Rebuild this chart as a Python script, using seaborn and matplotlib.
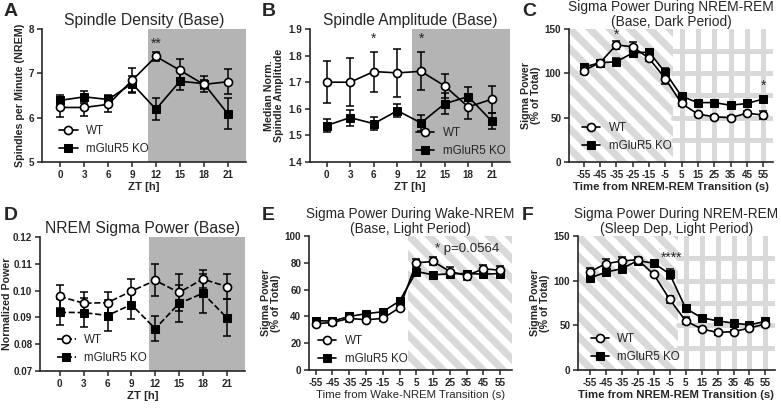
import numpy as np
import pandas as pd
import matplotlib
matplotlib.use('Agg')
import matplotlib.pyplot as plt
import seaborn as sns

sns.set_style('ticks')
plt.rcParams['font.family'] = ['Liberation Sans', 'DejaVu Sans']
plt.rcParams['axes.unicode_minus'] = False

# x values
zt = [0, 3, 6, 9, 12, 15, 18, 21]
trans = [-55, -45, -35, -25, -15, -5, 5, 15, 25, 35, 45, 55]

# A: spindle density
dens_wt = [6.23, 6.23, 6.30, 6.84, 7.38, 7.07, 6.75, 6.81]
dens_wt_err = [0.21, 0.20, 0.18, 0.28, 0.10, 0.25, 0.10, 0.28]
dens_ko = [6.39, 6.47, 6.41, 6.77, 6.19, 6.82, 6.77, 6.09]
dens_ko_err = [0.13, 0.13, 0.10, 0.18, 0.25, 0.20, 0.18, 0.35]

# B: spindle amplitude
amp_wt = [1.70, 1.70, 1.74, 1.735, 1.741, 1.686, 1.607, 1.636]
amp_wt_err = [0.08, 0.09, 0.075, 0.09, 0.072, 0.046, 0.045, 0.05]
amp_ko = [1.537, 1.567, 1.544, 1.593, 1.547, 1.619, 1.646, 1.553]
amp_ko_err = [0.025, 0.03, 0.025, 0.025, 0.03, 0.04, 0.035, 0.03]

# C: sigma NREM-REM base dark
c_wt = [103, 112, 132, 130, 117, 94, 66, 54, 51, 50, 55, 53]
c_wt_err = [4, 3, 5, 5, 3, 6, 3, 2, 2, 2, 2, 4]
c_ko = [107, 112, 113, 123, 124, 101, 74, 67, 67, 64, 66, 71]
c_ko_err = [3, 3, 4, 3, 3, 5, 3, 2, 2, 3, 2, 3]

# D: NREM sigma power
d_wt = [0.0978, 0.0953, 0.0955, 0.0998, 0.1038, 0.0993, 0.1043, 0.1015]
d_wt_err = [0.0042, 0.0040, 0.0040, 0.0045, 0.0060, 0.0070, 0.0035, 0.0048]
d_ko = [0.0919, 0.0918, 0.0907, 0.0948, 0.0858, 0.0952, 0.0990, 0.0899]
d_ko_err = [0.0048, 0.0055, 0.0058, 0.0055, 0.0047, 0.0068, 0.0072, 0.0070]

# E: sigma wake-NREM base light
e_wt = [34.5, 35.5, 38.5, 37.5, 38.5, 46.5, 80, 81, 73.5, 70.5, 75.5, 74.5]
e_wt_err = [2, 2, 3, 2, 2, 2, 3, 3, 3, 3, 3, 3]
e_ko = [36.8, 36.5, 40, 42, 43.5, 51.5, 73.5, 71, 71.8, 72, 71.5, 72]
e_ko_err = [1.5, 1.5, 2, 1.5, 1.5, 2, 2, 2, 2, 2, 2, 2]

# F: sigma NREM-REM sleep dep light
f_wt = [110, 119, 122, 123.5, 107, 79, 55, 46, 42, 43, 47, 51.5]
f_wt_err = [4, 5, 4, 3, 2, 4, 4, 2, 3, 2, 2, 2]
f_ko = [103, 109.5, 113.5, 122.5, 119.5, 107.5, 69, 58.5, 55, 52.5, 50.5, 54.5]
f_ko_err = [3, 3, 3, 3, 3, 6, 2, 2, 2, 2, 2, 2]

W, H = 781, 408
fig = plt.figure(figsize=(W / 100, H / 100), dpi=100)


def box(l, t, r, b):
    return fig.add_axes([l / W, 1 - b / H, (r - l) / W, (b - t) / H])


def bold_ticks(ax):
    for lbl in ax.get_xticklabels() + ax.get_yticklabels():
        lbl.set_fontweight('bold')


def draw(ax, x, wt, wt_e, ko, ko_e, ls='-'):
    ax.errorbar(x, ko, yerr=ko_e, fmt='none', ecolor='black', elinewidth=1.1,
                capsize=2.6, capthick=1.1, zorder=3)
    ax.errorbar(x, wt, yerr=wt_e, fmt='none', ecolor='black', elinewidth=1.1,
                capsize=2.6, capthick=1.1, zorder=3)
    df = pd.DataFrame({'x': x, 'wt': wt, 'ko': ko})
    sns.lineplot(data=df, x='x', y='ko', ax=ax, color='black', marker='s',
                 markersize=5.5, markeredgecolor='black', linestyle=ls,
                 linewidth=1.2, label='mGluR5 KO', zorder=4)
    sns.lineplot(data=df, x='x', y='wt', ax=ax, color='black', marker='o',
                 markersize=5.8, markerfacecolor='white', markeredgecolor='black',
                 markeredgewidth=1.2, linestyle=ls, linewidth=1.2, label='WT', zorder=5)


def style(ax, xlabel, ylabel, title, tsize=11, xl_bold=True, ypad=3):
    sns.despine(ax=ax)
    for s in ['left', 'bottom']:
        ax.spines[s].set_linewidth(1.2)
    ax.tick_params(labelsize=7.1, length=3.5, width=1.1, pad=2)
    ax.set_xlabel(xlabel, fontsize=8.2, fontweight='bold' if xl_bold else 'normal', labelpad=2)
    ax.set_ylabel(ylabel, fontsize=7.7, fontweight='bold', labelpad=ypad, linespacing=1.0)
    ax.set_title(title, fontsize=tsize, linespacing=1.05, pad=3 if tsize > 10 else 0.5)
    bold_ticks(ax)


def legend(ax, loc, anchor):
    h, l = ax.get_legend_handles_labels()
    order = [l.index('WT'), l.index('mGluR5 KO')]
    ax.legend([h[i] for i in order], [l[i] for i in order], frameon=False,
              fontsize=8.4, loc=loc, bbox_to_anchor=anchor, handlelength=1.6,
              handletextpad=0.7, labelspacing=0.5, borderaxespad=0)


def stripes(ax, x0, x1, y1):
    # diagonal light-gray bands, 45 degrees on screen, clipped to [x0, x1]
    rect = plt.Rectangle((x0, 0), x1 - x0, y1, facecolor='none', edgecolor='none',
                         transform=ax.transData)
    ax.add_patch(rect)
    bb = ax.get_position()
    w, h = bb.width * W, bb.height * H
    for k in np.arange(-h - 6, w + 20, 20):
        ln, = ax.plot([k / w, (k + h) / w], [1, 0], transform=ax.transAxes,
                      color='#d9d9d9', lw=5.2, zorder=0, solid_capstyle='projecting')
        ln.set_clip_path(rect)


def grid_right(ax, xs, ys, x1):
    for gx in xs:
        ax.plot([gx, gx], [0, ys[-1] + 25], color='#d9d9d9', lw=3.6, zorder=0.5)
    for gy in ys:
        ax.plot([0, x1], [gy, gy], color='#d9d9d9', lw=3.6, zorder=0.5)


# A
axA = box(42, 29, 246, 162)
axA.axvspan(11, 23.3, color='#b4b4b4', lw=0, zorder=0)
draw(axA, zt, dens_wt, dens_wt_err, dens_ko, dens_ko_err)
axA.set_xlim(-2.3, 23.3)
axA.set_ylim(5, 8)
axA.set_xticks(zt)
axA.set_yticks([5, 6, 7, 8])
style(axA, 'ZT [h]', 'Spindles per Minute (NREM)', 'Spindle Density (Base)', 11.3)
axA.text(12, 7.57, '**', ha='center', fontsize=10)
legend(axA, 'lower left', (0.06, 0.02))

# B
axB = box(310, 29, 510, 162)
axB.axvspan(10.8, 23.3, color='#b4b4b4', lw=0, zorder=0)
draw(axB, zt, amp_wt, amp_wt_err, amp_ko, amp_ko_err)
axB.set_xlim(-2.1, 23.3)
axB.set_ylim(1.4, 1.9)
axB.set_xticks(zt)
axB.set_yticks([1.4, 1.5, 1.6, 1.7, 1.8, 1.9])
axB.yaxis.set_major_formatter(matplotlib.ticker.FormatStrFormatter('%.1f'))
style(axB, 'ZT [h]', 'Median Norm.\nSpindle Amplitude', 'Spindle Amplitude (Base)', 11.2)
for xs in [6, 12]:
    axB.text(xs, 1.85, '*', ha='center', fontsize=10)
legend(axB, 'lower right', (1.0, 0.0))

# C
axC = box(569, 29, 773, 162)
axC.set_xlim(-64, 61)
axC.set_ylim(0, 150)
stripes(axC, -64, 0, 150)
grid_right(axC, trans[6:], [25, 50, 75, 100, 125], 61)
draw(axC, trans, c_wt, c_wt_err, c_ko, c_ko_err)
axC.set_xlim(-64, 61)
axC.set_ylim(0, 150)
axC.set_xticks(trans)
axC.set_yticks([0, 50, 100, 150])
style(axC, 'Time from NREM-REM Transition (s)', 'Sigma Power\n(% of Total)',
      'Sigma Power During NREM-REM\n(Base, Dark Period)', 9.9)
axC.text(-35, 139, '*', ha='center', fontsize=10)
axC.text(55, 82, '*', ha='center', fontsize=10)
legend(axC, 'lower left', (0.04, 0.04))

# D
axD = box(40, 237, 245, 371)
axD.axvspan(11.2, 23.3, color='#b4b4b4', lw=0, zorder=0)
draw(axD, zt, d_wt, d_wt_err, d_ko, d_ko_err, ls='--')
axD.set_xlim(-2.5, 23.3)
axD.set_ylim(0.07, 0.12)
axD.set_xticks(zt)
axD.set_yticks([0.07, 0.08, 0.09, 0.10, 0.11, 0.12])
axD.yaxis.set_major_formatter(matplotlib.ticker.FormatStrFormatter('%.2f'))
style(axD, 'ZT [h]', 'Normalized Power', 'NREM Sigma Power (Base)', 11.3, ypad=1)
legend(axD, 'lower left', (0.06, 0.02))

# E
axE = box(309, 236, 512, 370)
axE.set_xlim(-59, 62)
axE.set_ylim(0, 100)
stripes(axE, 0, 62, 100)
draw(axE, trans, e_wt, e_wt_err, e_ko, e_ko_err)
axE.set_xlim(-59, 62)
axE.set_ylim(0, 100)
axE.set_xticks(trans)
axE.set_yticks([0, 20, 40, 60, 80, 100])
style(axE, 'Time from Wake-NREM Transition (s)', 'Sigma Power\n(% of Total)',
      'Sigma Power During Wake-NREM\n(Base, Light Period)', 9.8, xl_bold=False)
axE.text(35, 90, '* p=0.0564', ha='center', va='center', fontsize=9.5)
legend(axE, 'lower left', (0.02, 0.0))

# F
axF = box(578, 236, 775, 370)
axF.set_xlim(-62.5, 61)
axF.set_ylim(0, 150)
stripes(axF, -62.5, 0, 150)
grid_right(axF, trans[6:], [25, 50, 75, 100, 125], 61)
draw(axF, trans, f_wt, f_wt_err, f_ko, f_ko_err)
axF.set_xlim(-62.5, 61)
axF.set_ylim(0, 150)
axF.set_xticks(trans)
axF.set_yticks([0, 50, 100, 150])
style(axF, 'Time from NREM-REM Transition (s)', 'Sigma Power\n(% of Total)',
      'Sigma Power During NREM-REM\n(Sleep Dep, Light Period)', 9.8)
axF.text(-4, 121, '****', ha='center', fontsize=10)
legend(axF, 'lower left', (0.04, 0.02))

for lbl, (px, py) in zip('ABCDEF', [(4, 3), (262, 3), (522, 3), (4, 207), (262, 207), (522, 207)]):
    fig.text(px / W, 1 - py / H, lbl, fontsize=14, fontweight='bold', va='top', ha='left')

fig.savefig('out.png', dpi=100)
